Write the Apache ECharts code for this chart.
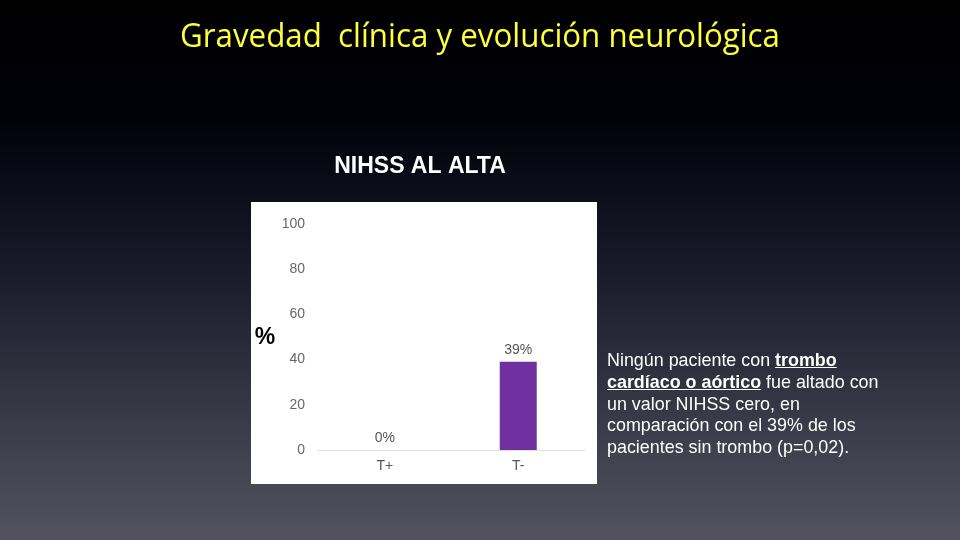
<!DOCTYPE html>
<html>
<head>
<meta charset="utf-8">
<script src="https://cdn.jsdelivr.net/npm/echarts@6/dist/echarts.min.js"></script>
<style>
html, body { margin: 0; padding: 0; width: 960px; height: 540px; overflow: hidden; background: #000; }
#main { position: absolute; left: 0; top: 0; width: 960px; height: 540px; }
#note {
  position: absolute; left: 607px; top: 350px; width: 330px;
  color: #fff; font-family: "Liberation Sans", Arial, sans-serif;
  font-size: 17.9px; line-height: 21.8px; white-space: nowrap;
}
#note b { text-decoration: underline; }
</style>
</head>
<body>
<div id="main"></div>
<div id="note">Ningún paciente con <b>trombo</b><br><b>cardíaco o aórtico</b> fue altado con<br>un valor NIHSS cero, en<br>comparación con el 39% de los<br>pacientes sin trombo (p=0,02).</div>
<script>
var categories = ['T+', 'T-'];
var values = [0, 39];
var yMin = 0, yMax = 100, yStep = 20;

var slideTitle = 'Gravedad  clínica y evolución neurológica';
var chartTitle = 'NIHSS AL ALTA';
var yName = '%';

// title font is narrow (Calibri-like), squeeze Open Sans to the same width
var cv = document.createElement('canvas').getContext('2d');
cv.font = '33px "Open Sans"';
var titleScale = 600 / cv.measureText(slideTitle).width;

var myChart = echarts.init(document.getElementById('main'));

myChart.setOption({
  animation: false,
  backgroundColor: {
    type: 'linear', x: 0, y: 0, x2: 0, y2: 1,
    colorStops: [
      { offset: 0, color: '#000000' },
      { offset: 0.22, color: '#01010a' },
      { offset: 0.5, color: '#1a1a2b' },
      { offset: 1, color: '#53535f' }
    ]
  },
  graphic: [
    {
      type: 'rect', z: -10,
      shape: { x: 251, y: 202, width: 346, height: 282 },
      style: { fill: '#ffffff' }
    },
    {
      type: 'text', x: 480, y: 38, scaleX: titleScale, originX: 0,
      style: {
        text: slideTitle, fill: '#ffff3c',
        font: '33px "Open Sans"', textAlign: 'center', textVerticalAlign: 'middle'
      }
    },
    {
      type: 'text', x: 420, y: 167,
      style: {
        text: chartTitle, fill: '#ffffff',
        font: 'bold 23px "Liberation Sans", Arial', textAlign: 'center', textVerticalAlign: 'middle'
      }
    },
    {
      type: 'text', x: 265, y: 338,
      style: {
        text: yName, fill: '#000000',
        font: 'bold 23px "Liberation Sans", Arial', textAlign: 'center', textVerticalAlign: 'middle'
      }
    }
  ],
  grid: { left: 318, right: 375, top: 224, bottom: 90 },
  xAxis: {
    type: 'category',
    data: categories,
    axisLine: { lineStyle: { color: '#e0e0e0', width: 1 } },
    axisTick: { show: false },
    axisLabel: { color: '#555555', fontSize: 14, fontFamily: 'Liberation Sans', margin: 9 }
  },
  yAxis: {
    type: 'value',
    min: yMin, max: yMax, interval: yStep,
    axisLine: { show: false },
    axisTick: { show: false },
    splitLine: { show: false },
    axisLabel: { color: '#666666', fontSize: 14, fontFamily: 'Liberation Sans', margin: 13 }
  },
  series: [{
    type: 'bar',
    data: values,
    barWidth: 37,
    itemStyle: { color: '#7030a0' },
    label: {
      show: true, position: 'top', distance: 5,
      formatter: '{c}%', color: '#555555', fontSize: 14, fontFamily: 'Liberation Sans'
    }
  }]
});
</script>
</body>
</html>
